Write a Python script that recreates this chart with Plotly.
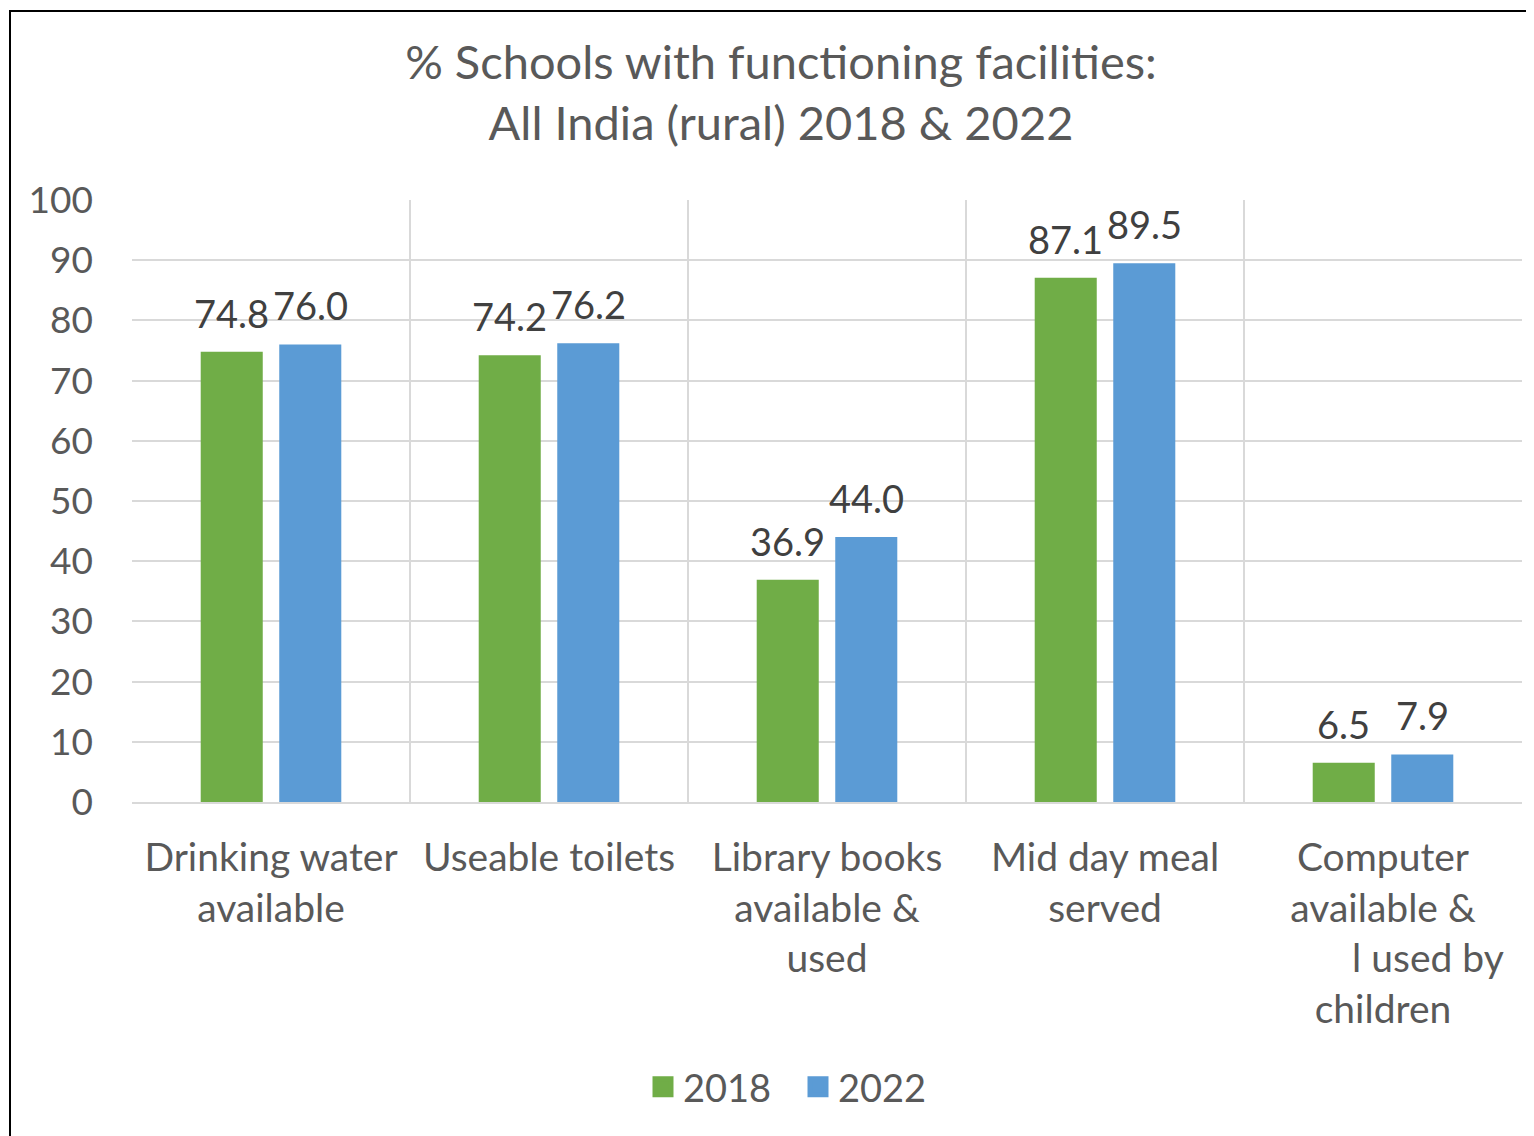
import plotly.graph_objects as go

categories = [
    "Drinking water<br>available",
    "Useable toilets",
    "Library books<br>available &<br>used",
    "Mid day meal<br>served",
    "Computer<br>available &<br>" + "\u00a0" * 9 + "l used by<br>children",
]
values_2018 = [74.8, 74.2, 36.9, 87.1, 6.5]
values_2022 = [76.0, 76.2, 44.0, 89.5, 7.9]
series_names = ["2018", "2022"]
y_ticks = list(range(0, 101, 10))

GREEN = "#70AD47"
BLUE = "#5B9BD5"
FONT = "Lato"
TXT = "#595959"
LBL = "#404040"

W, H = 1526, 1128
ML, MR, MT, MB = 124, 12, 192, 334
PW = W - ML - MR
PH = H - MT - MB
BARGAP, GROUPGAP = 0.435, 0.21
slot_half = PW / len(categories) * (1 - BARGAP) / 4

fig = go.Figure()
series = [(series_names[0], values_2018, GREEN), (series_names[1], values_2022, BLUE)]
for i, (name, vals, col) in enumerate(series):
    fig.add_trace(go.Bar(
        x=categories, y=vals, name=name,
        marker=dict(color=col, line=dict(width=0)),
        showlegend=False,
    ))
    # legend swatch
    fig.add_trace(go.Scatter(
        x=[None], y=[None], mode="markers", name=name,
        marker=dict(symbol="square", size=24, color=col,
                    line=dict(color=col, width=8)),
        showlegend=True,
    ))
    for c, v in zip(categories, vals):
        fig.add_annotation(
            x=c, y=v, text=f"{v:.1f}", showarrow=False,
            xshift=(-1 if i == 0 else 1) * slot_half, yshift=14,
            yanchor="bottom", xanchor="center",
            font=dict(family=FONT, size=38, color=LBL),
        )

fig.update_layout(
    width=W, height=H,
    margin=dict(l=ML, r=MR, t=MT, b=MB),
    paper_bgcolor="white", plot_bgcolor="white",
    barmode="group", bargap=BARGAP, bargroupgap=GROUPGAP,
    font=dict(family=FONT, color=TXT),
    title=dict(
        text="% Schools with functioning facilities:<br>All India (rural) 2018 & 2022",
        x=773 / W, xref="container", xanchor="center",
        y=1 - 71 / H, yref="container", yanchor="middle",
        font=dict(family=FONT, size=47, color=TXT),
    ),
    legend=dict(
        orientation="h", x=790 / W, xref="container", xanchor="center",
        y=1 - 1079 / H, yref="container", yanchor="middle",
        font=dict(family=FONT, size=38, color=TXT),
        itemsizing="trace", itemwidth=30, entrywidth=110,
    ),
    showlegend=True,
)
fig.update_xaxes(
    type="category", tickson="boundaries",
    showgrid=True, gridcolor="#D9D9D9", gridwidth=2,
    showline=True, linecolor="#D9D9D9", linewidth=2,
    ticks="", tickfont=dict(family=FONT, size=39, color=TXT),
    ticklabelstandoff=20,
)
fig.update_yaxes(
    range=[0, 100], tickvals=y_ticks,
    showgrid=True, gridcolor="#D9D9D9", gridwidth=2,
    showline=False, zeroline=False,
    ticks="", tickfont=dict(family=FONT, size=37, color=TXT),
    ticklabelstandoff=38,
)
fig.add_shape(
    type="rect", xref="paper", yref="paper",
    x0=(2 - ML) / PW, x1=(W + 10 - ML) / PW,
    y0=-(MB + 12) / PH, y1=1 + (MT - 3) / PH,
    line=dict(color="black", width=2), fillcolor="rgba(0,0,0,0)", layer="above",
)
fig.write_html("out.html")
